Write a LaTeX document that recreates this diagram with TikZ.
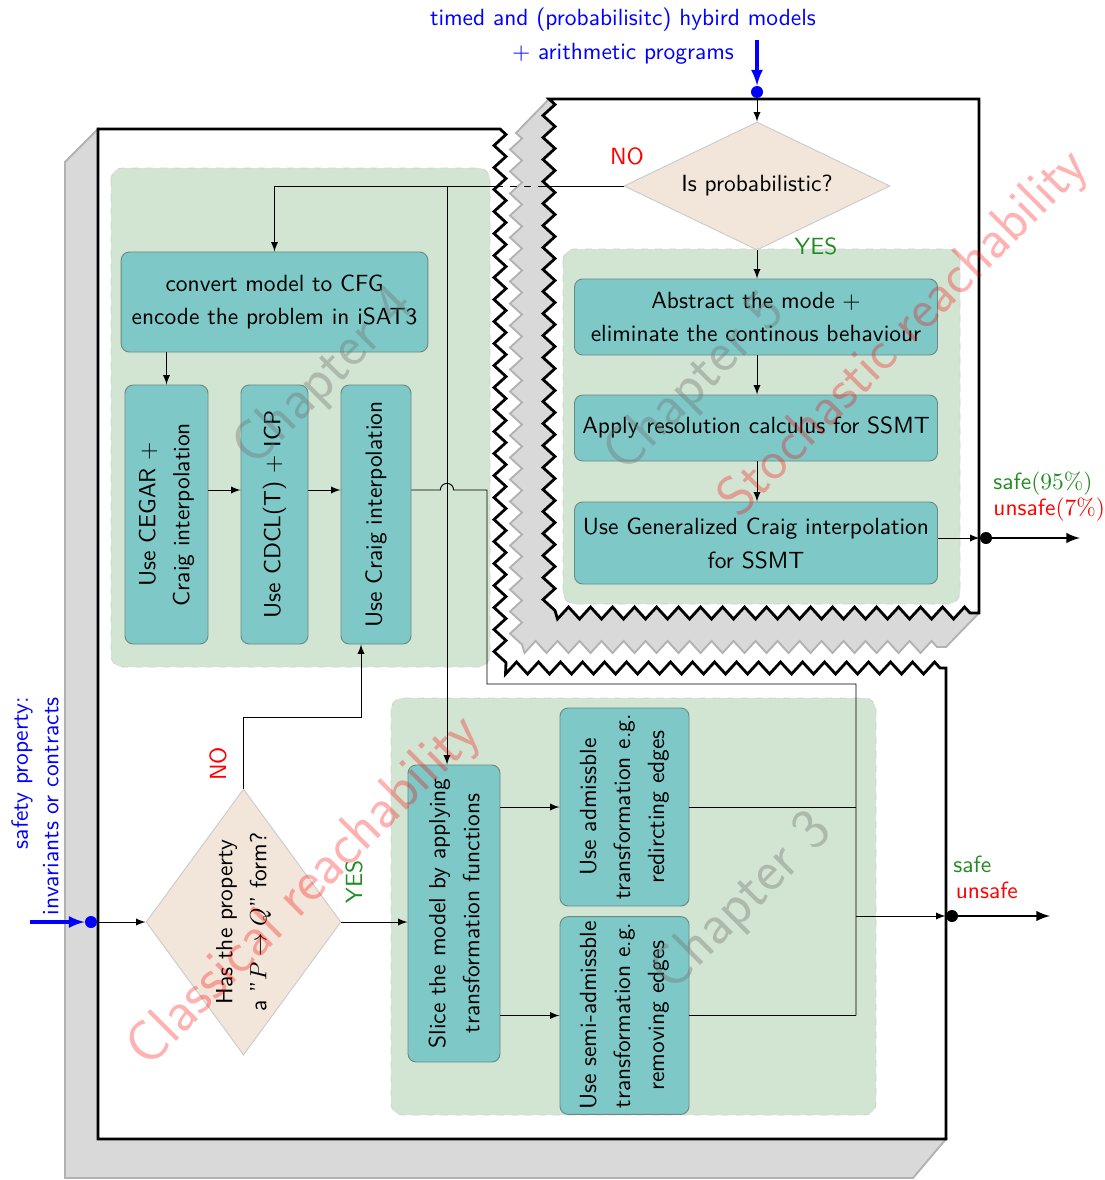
\documentclass[tikz,border=0pt]{standalone}
\usepackage{amsmath,amssymb}
\usetikzlibrary{shapes.geometric,decorations.pathmorphing}
\renewcommand{\familydefault}{\sfdefault}
\definecolor{procfill}{RGB}{126,200,200}
\definecolor{procline}{RGB}{105,140,130}
\definecolor{chapfill}{RGB}{210,228,210}
\definecolor{yesgreen}{RGB}{34,139,34}

\begin{document}
\begin{tikzpicture}[x=0.015cm,y=-0.015cm,>=latex,
  every node/.style={font=\fontsize{10}{14.5}\selectfont},
  proc/.style={draw=procline,fill=procfill,rounded corners=3.5pt,align=center,inner sep=2pt},
  ask/.style={diamond,draw=gray!40,fill=brown!20,align=center,inner sep=1pt},
  chap/.style={draw=gray!35,dashed,fill=chapfill,rounded corners=5pt},
  page/.style={draw=black,very thick,fill=white},
  side/.style={draw=gray!60,thick,fill=gray!30},
  torn/.style={decoration={zigzag,segment length=0.33cm,amplitude=0.09cm}},
  water/.style={text=black!55,opacity=.38,font=\fontsize{25}{30}\selectfont,rotate=45},
  stamp/.style={text=red,opacity=.3,font=\fontsize{25}{30}\selectfont,rotate=45},
  inarrow/.style={blue,line width=1.3pt,->},
  outarrow/.style={line width=1pt,->},
  joint/.style={circle,fill,inner sep=0pt,minimum size=0.18cm}]
  \useasboundingbox (0,0) rectangle (1105,1180);

  % the two torn pages with their side faces
  \filldraw[side] (98,129) -- (65,162) -- (65,1178) -- (913,1178) -- (946,1139) -- (98,1139) -- cycle;
  \filldraw[page,torn] decorate {(500,129) -- (500,668) -- (946,668)} -- (946,1139) -- (98,1139) -- (98,129) -- cycle;
  \filldraw[side,torn] decorate {(516,133) -- (516,647) -- (946,647)} -- (979,613) -- (549,99) -- cycle;
  \filldraw[page,torn] decorate {(549,99) -- (549,613) -- (979,613)} -- (979,99) -- cycle;

  % chapter areas
  \foreach\x/\y/\X/\Y in {111/168/490/667,563/249/960/604,391/698/876/1115}
    \draw[chap](\x,\y)rectangle(\X,\Y);

  % chapter 5
  \node[ask,aspect=2.08,minimum width=3.99cm,minimum height=1.92cm] (isprob) at (757,186) {Is probabilistic?};
  \node[proc,minimum width=5.445cm,minimum height=1.14cm] (abstract) at (756,317) {Abstract the mode $+$\\ eliminate the continous behaviour};
  \node[proc,minimum width=5.445cm,minimum height=0.99cm] (apply) at (756,428) {Apply resolution calculus for SSMT};
  \node[proc,minimum width=5.445cm,minimum height=1.23cm] (general) at (756,543) {Use Generalized Craig interpolation\\ for SSMT};

  % chapter 4
  \node[proc,minimum width=4.6cm,minimum height=1.5cm] (convert) at (274.5,302) {convert model to CFG\\ encode the problem in iSAT3};
  \node[proc,rotate=90,minimum width=3.885cm,minimum height=1.245cm] (cegar) at (166.5,514.5) {Use CEGAR $+$\\ Craig interpolation};
  \node[proc,rotate=90,minimum width=3.885cm,minimum height=1.005cm] (cdcl) at (274.5,514.5) {Use CDCL(T) $+$ ICP};
  \node[proc,rotate=90,minimum width=3.885cm,minimum height=1.05cm] (craig) at (376,514.5) {Use Craig interpolation};

  % chapter 3
  \node[ask,rotate=90,aspect=1.36,minimum width=3.99cm,minimum height=2.925cm] (prop) at (243.5,922) {Has the property\\ a "$P\rightarrow Q$" form?};
  \node[proc,rotate=90,minimum width=4.455cm,minimum height=1.38cm] (slice) at (454,913.5) {Slice the model by applying\\ transformation functions};
  \node[proc,rotate=90,minimum width=2.97cm,minimum height=1.935cm] (adm) at (624.5,807) {Use admissble\\ transformation e.g.\\ redircting edges};
  \node[proc,rotate=90,minimum width=2.955cm,minimum height=1.935cm] (semi) at (624.5,1015.5) {Use semi-admissble\\ transformation e.g.\\ removing edges};

  % inputs and outputs
  \coordinate (topin) at (757,40);
  \coordinate (leftin) at (30,922);
  \coordinate (c5end) at (1080,538);
  \coordinate (c3end) at (1050,916);
  \node[joint,blue] (topdot) at (757,92) {};
  \node[joint,blue] (leftdot) at (91,922) {};
  \node[joint] (c5dot) at (986,538) {};
  \node[joint] (c3dot) at (952,916) {};

  % bends of the connectors
  \coordinate (gapR) at (545,186);
  \coordinate (gapL) at (500,186);
  \coordinate (branch) at (447,186);
  \coordinate (row) at (0,490);
  \coordinate (drop) at (487,684);
  \coordinate (bus) at (856,916);
  \coordinate (noup) at (361,717);

  \draw[inarrow] (topin) -- (topdot);
  \draw[->] (topdot) -- (isprob.north);
  \draw[->] (isprob.south) -- (isprob.south |- abstract.north);
  \draw[->] (abstract.south -| isprob.south) -- (apply.north -| isprob.south);
  \draw[->] (apply.south -| isprob.south) -- (general.north -| isprob.south);
  \draw[->] (general.east |- c5dot) -- (c5dot);
  \draw[outarrow] (c5dot) -- (c5end);

  \draw (isprob.west) -- (gapR);
  \draw[dashed] (gapR) -- (gapL);
  \draw[->] (gapL) -| (convert.north);
  \draw[->] (branch) -- (branch |- slice.east);
  \draw[->] (convert.south -| cegar.east) -- (cegar.east);
  \draw[->] (cegar.south |- row) -- (cdcl.north |- row);
  \draw[->] (cdcl.south |- row) -- (craig.north |- row);
  \draw (craig.south |- row) -- ([xshift=-0.1cm]branch |- row) arc[start angle=180,end angle=0,radius=0.1cm]
    -- (drop |- row) -- (drop) -| (bus |- semi.south);

  \draw[inarrow] (leftin) -- (leftdot);
  \draw[->] (leftdot) -- (prop.north);
  \draw[->] (prop.south) -- (slice.north |- prop.south);
  \draw[->] (prop.east) |- (noup) -- (noup |- craig.west);
  \draw[->] (slice.south |- adm.south) -- (adm.north);
  \draw[->] (slice.south |- semi.south) -- (semi.north);
  \draw (adm.south) -- (bus |- adm.south);
  \draw (semi.south) -- (bus |- semi.south);
  \draw[->] (bus) -- (c3dot);
  \draw[outarrow] (c3dot) -- (c3end);

  % texts
  \node[text=blue,align=center] (models) at (623,36) {timed and (probabilisitc) hybird models\\ $+$ arithmetic programs};
  \node[text=blue,rotate=90,align=right,anchor=east,inner sep=0pt,font=\fontsize{10}{13}\selectfont] (safety) at (35,697) {safety property:\\ invariants or contracts};
  \node[text=red] (no5) at (627,156) {NO};
  \node[text=yesgreen] (yes5) at (816,246) {YES};
  \node[text=red,rotate=90] (no3) at (218,764) {NO};
  \node[text=yesgreen,rotate=90] (yes3) at (354,882) {YES};
  \node[align=left,anchor=west,inner sep=0pt,font=\fontsize{10}{11}\selectfont] (res5) at (993,497)
    {\textcolor{yesgreen}{safe$(95\%)$}\\ \textcolor{red}{unsafe$(7\%)$}};
  \node[align=left,anchor=west,inner sep=0pt,font=\fontsize{10}{11}\selectfont] (res3) at (953,877)
    {\textcolor{yesgreen}{safe}\\ \hspace*{1pt}\textcolor{red}{unsafe}};

  % watermarks
  \foreach\p/\t in {{(325,378)}/4,{(696,384)}/5,{(743,903)}/3}
    \node[water] (ch\t) at \p {Chapter \t};
  \node[stamp] (classic) at (305,892) {Classical reachability};
  \node[stamp,font=\fontsize{24}{29}\selectfont] (stoch) at (904,334) {Stochastic reachability};
\end{tikzpicture}
\end{document}
